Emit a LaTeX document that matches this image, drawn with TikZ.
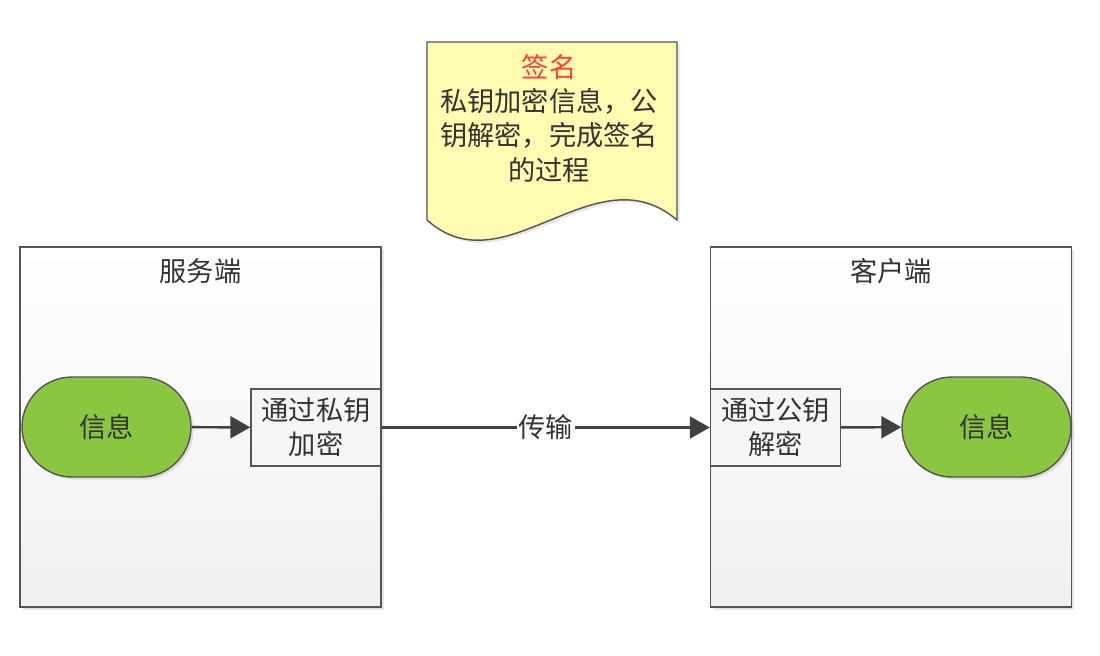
\documentclass[tikz,border=0pt]{standalone}
\usepackage{fontspec}
\newfontfamily\cjk{Noto Sans CJK SC}
\usetikzlibrary{arrows.meta,shadows}
\definecolor{pillgreen}{HTML}{8AC640}
\definecolor{notefill}{HTML}{FFFBB0}
\definecolor{linegray}{HTML}{555555}
\definecolor{arrowgray}{HTML}{404040}
\definecolor{textgray}{HTML}{333333}
\definecolor{signred}{HTML}{FF3B3B}

\begin{document}
\begin{tikzpicture}[x=0.02cm,y=-0.02cm,
  every node/.style={font=\cjk\fontsize{15.5}{19.4}\selectfont,text=textgray},
  side/.style={draw=linegray,line width=0.8pt,top color=white,bottom color=black!6,
    minimum width=7.22cm,minimum height=7.2cm,inner sep=0pt,
    drop shadow={opacity=0.2,shadow xshift=1.5pt,shadow yshift=-1.5pt}},
  pill/.style={draw=linegray,line width=0.8pt,fill=pillgreen,rounded corners=1cm,
    minimum width=3.38cm,minimum height=2cm,inner sep=0pt,
    drop shadow={opacity=0.2,shadow xshift=1.5pt,shadow yshift=-1.5pt}},
  keybox/.style={draw=linegray,line width=0.8pt,fill=black!4,align=center,
    minimum width=2.6cm,minimum height=1.54cm,inner sep=0pt},
  flow/.style={draw=arrowgray,line width=1.4pt,-{Triangle[length=0.4cm,width=0.44cm]}}]
  \useasboundingbox (0,0) rectangle (1100,656);

  % signing note
  \filldraw[draw=linegray,line width=0.8pt,fill=notefill,
    drop shadow={opacity=0.2,shadow xshift=1.5pt,shadow yshift=-1.5pt}]
    (427,42) -- (677,42) -- (677,220)
    .. controls (595,150) and (505,290) .. (427,220) -- cycle;
  \node[align=center] (note) at (549,118.5)
    {\textcolor{signred}{签名}\\私钥加密信息，公\\钥解密，完成签名\\的过程};

  % server side
  \node[side] (srv) at (200.5,427) {};
  \node (srvtitle) at ([yshift=-0.5cm]srv.north) {服务端};
  \node[pill] (msgA) at (106.5,427) {信息};
  \node[keybox] (enc) at (316,427.5) {通过私钥\\加密};

  % client side
  \node[side] (cli) at (891,427) {};
  \node (clititle) at ([yshift=-0.5cm]cli.north) {客户端};
  \node[keybox] (dec) at (775.5,427.5) {通过公钥\\解密};
  \node[pill] (msgB) at (986.5,427) {信息};

  \draw[flow] (msgA) -- (enc);
  \draw[flow] (enc.east) -- node[fill=white,inner sep=1pt] (trans) {传输} (dec.west);
  \draw[flow] (dec) -- (msgB);
\end{tikzpicture}
\end{document}
